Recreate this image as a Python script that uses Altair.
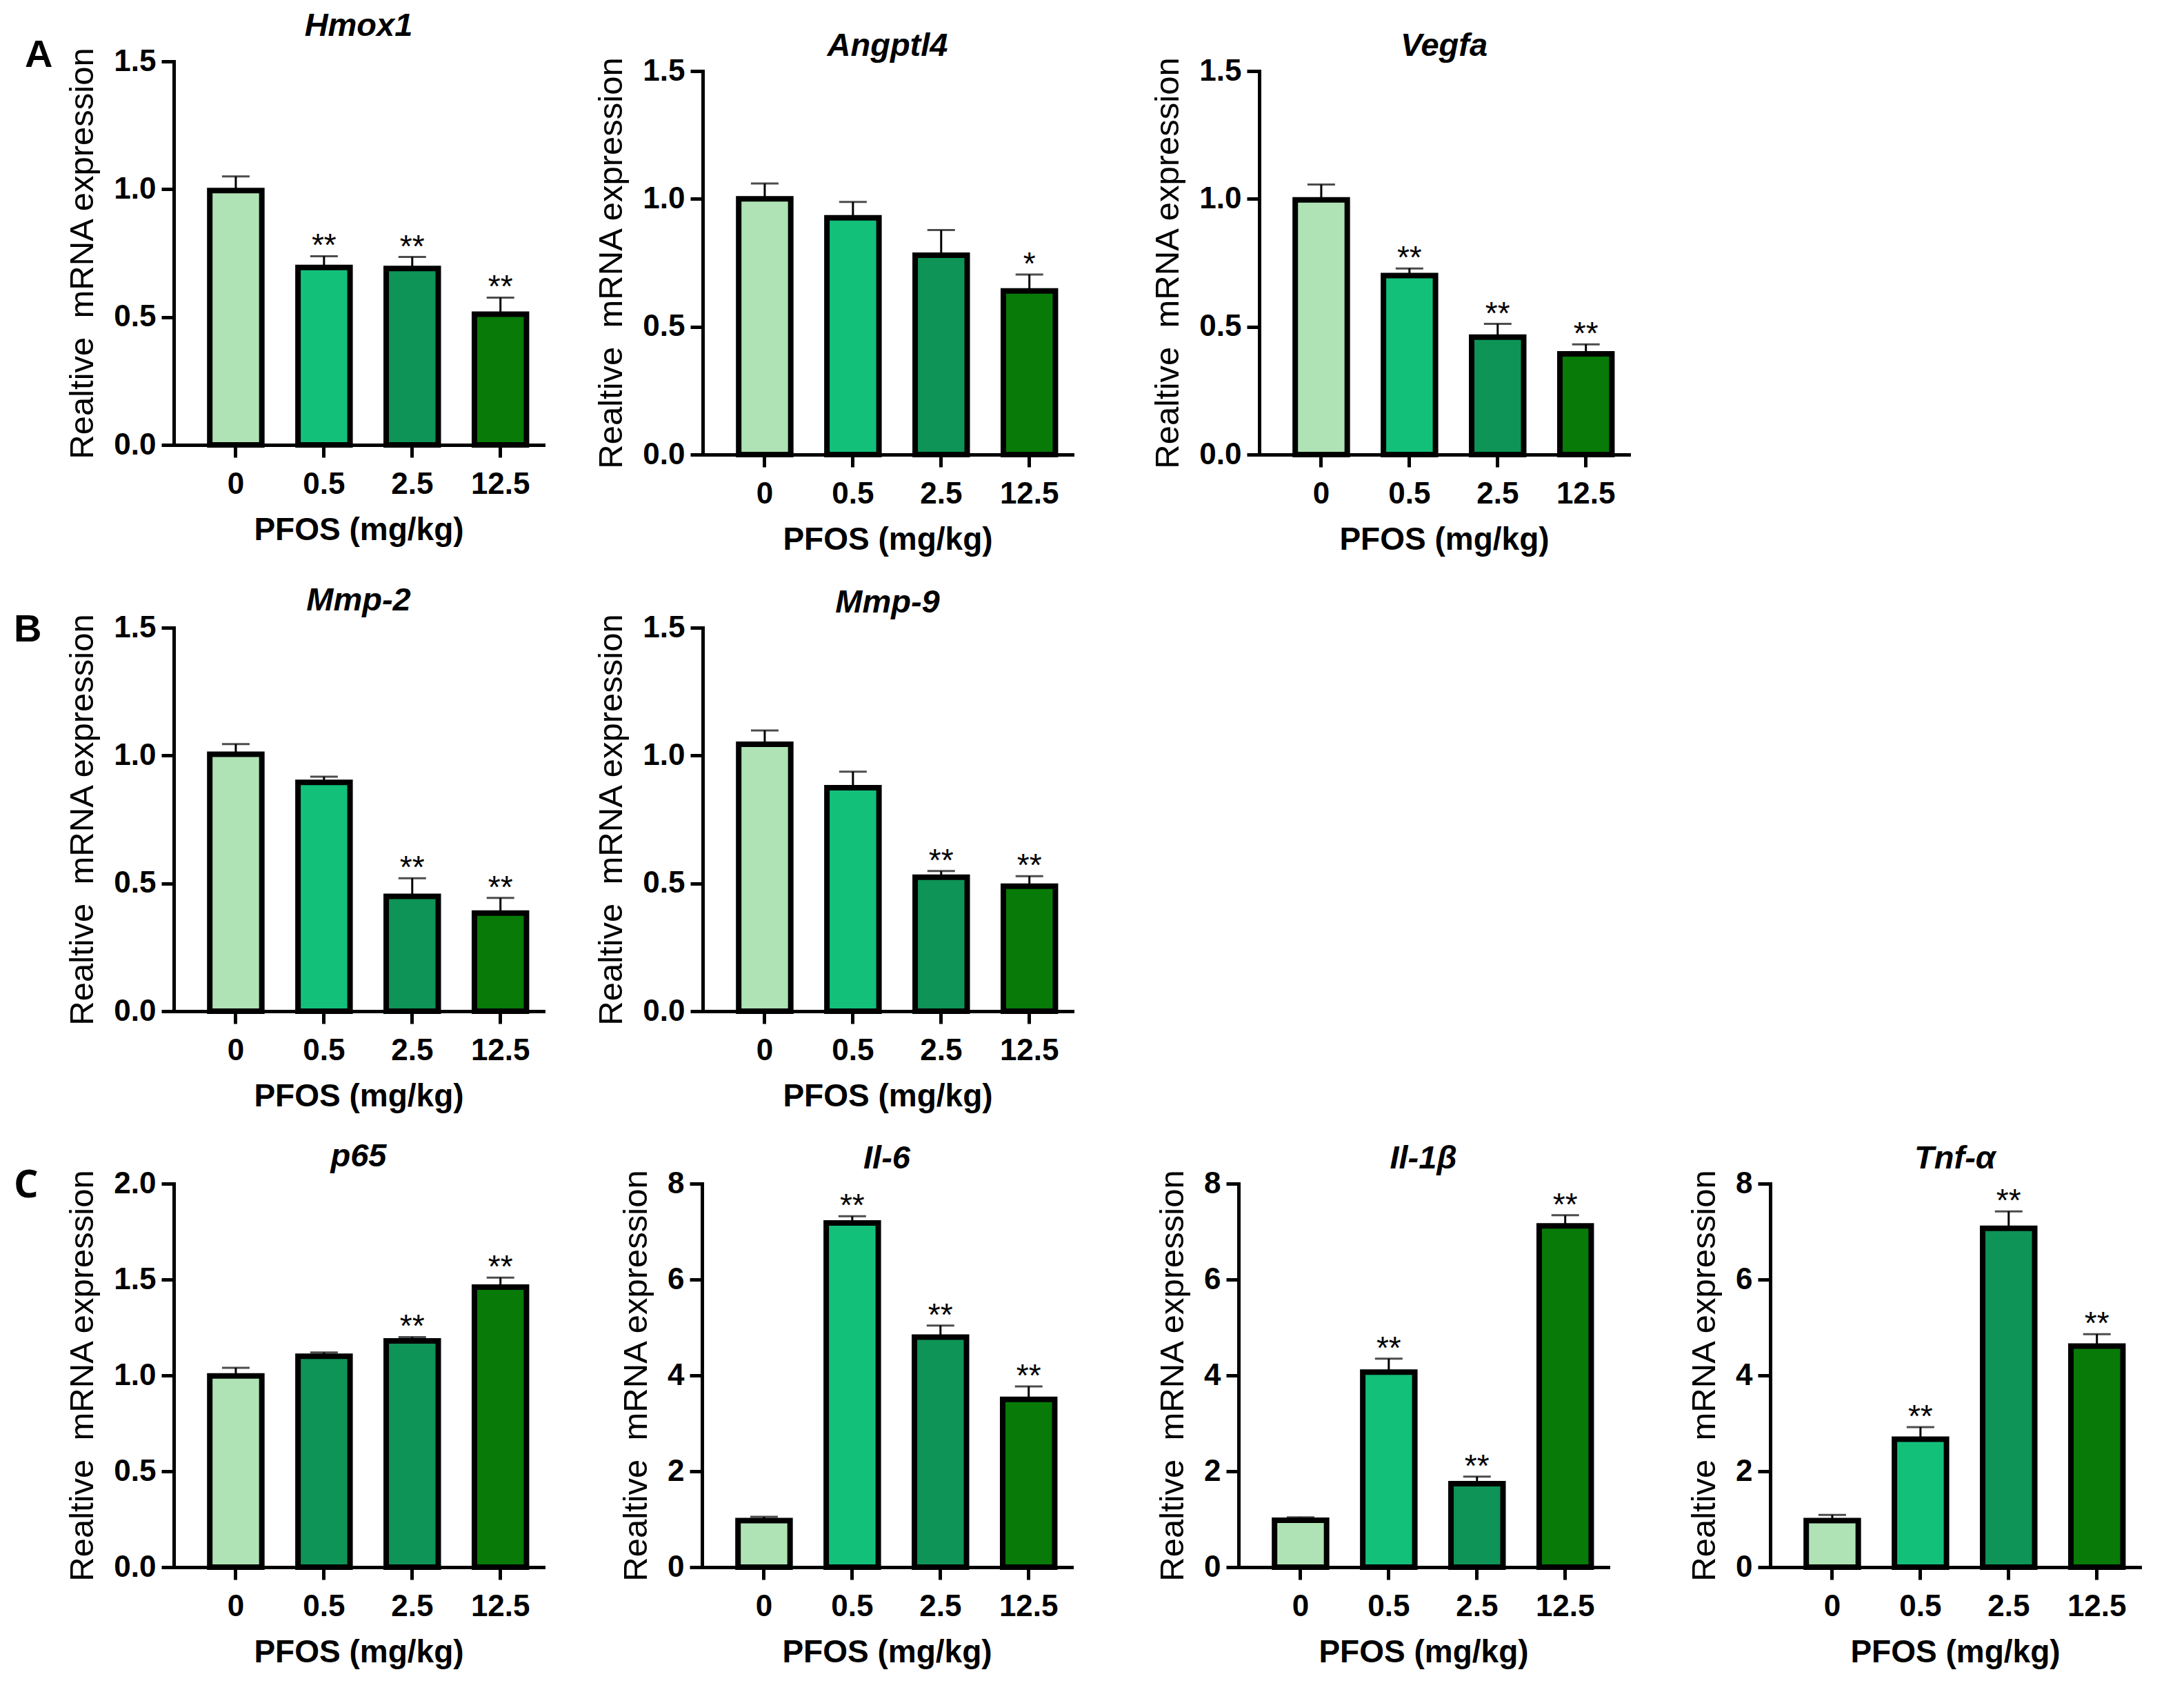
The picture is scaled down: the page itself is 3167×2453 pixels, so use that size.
import altair as alt
import pandas as pd

FONT = "Liberation Sans"
doses = ["0", "0.5", "2.5", "12.5"]
shade_names = ["ctrl", "low", "mid", "high"]
shade_colors = ["#afe3b5", "#12c07a", "#0e9456", "#077a07"]
YTITLE = "Realtive\u00a0 mRNA expression"

# ---- data (mean, error, significance) ----
hmox1_mean = [0.995, 0.694, 0.690, 0.511]
hmox1_err = [0.055, 0.044, 0.045, 0.065]
hmox1_sig = ["", "**", "**", "**"]

angptl4_mean = [1.000, 0.926, 0.780, 0.640]
angptl4_err = [0.060, 0.062, 0.098, 0.064]
angptl4_sig = ["", "", "", "*"]

vegfa_mean = [0.996, 0.700, 0.459, 0.394]
vegfa_err = [0.060, 0.028, 0.052, 0.037]
vegfa_sig = ["", "**", "**", "**"]

mmp2_mean = [1.005, 0.895, 0.449, 0.384]
mmp2_err = [0.040, 0.022, 0.071, 0.059]
mmp2_sig = ["", "", "**", "**"]

mmp9_mean = [1.044, 0.874, 0.524, 0.489]
mmp9_err = [0.054, 0.063, 0.024, 0.039]
mmp9_sig = ["", "", "**", "**"]

p65_mean = [0.997, 1.100, 1.180, 1.460]
p65_err = [0.043, 0.020, 0.020, 0.050]
p65_sig = ["", "", "**", "**"]

il6_mean = [0.97, 7.18, 4.80, 3.50]
il6_err = [0.08, 0.14, 0.24, 0.27]
il6_sig = ["", "**", "**", "**"]

il1b_mean = [0.98, 4.07, 1.74, 7.12]
il1b_err = [0.06, 0.28, 0.15, 0.22]
il1b_sig = ["", "**", "**", "**"]

tnfa_mean = [0.97, 2.67, 7.07, 4.61]
tnfa_err = [0.12, 0.25, 0.35, 0.25]
tnfa_sig = ["", "**", "**", "**"]

default_shades = [0, 1, 2, 3]
p65_shades = [0, 2, 2, 3]

W, H = 536, 556


def make_df(mean, err, sig, shades):
    return pd.DataFrame({
        "dose": doses,
        "value": mean,
        "err": err,
        "sig": sig,
        "shade": [shade_names[i] for i in shades],
    })


def panel(gene, df, ymax, yvals, fmt, extra=(), drop=0):
    # drop: the axis starts this many pixels below the top of the panel
    base = alt.Chart(df).transform_calculate(upper="datum.value + datum.err")
    xenc = alt.X("dose:N", sort=doses, title="PFOS (mg/kg)",
                 scale=alt.Scale(paddingInner=0.41, paddingOuter=0.3, align=0.68))
    yscale = alt.Scale(domain=[0, ymax], nice=False, zero=True, range=[H + drop, drop])
    yaxis = alt.Axis(values=yvals, format=fmt)

    def Y(field):
        return alt.Y(field, scale=yscale, axis=yaxis, title=YTITLE)

    stems = base.mark_rule(color="black", strokeWidth=3).encode(
        x=xenc, y=Y("value:Q"), y2="upper:Q")
    bars = base.mark_bar(stroke="black", strokeWidth=8, strokeJoin="miter").encode(
        x=xenc, y=Y("value:Q"),
        color=alt.Color("shade:N", scale=alt.Scale(domain=shade_names, range=shade_colors), legend=None))
    caps = base.mark_tick(color="black", thickness=3, size=40).encode(x=xenc, y=Y("upper:Q"))
    stars = base.mark_text(font=FONT, fontSize=46, dy=0, baseline="alphabetic", color="black").encode(
        x=xenc, y=Y("upper:Q"), text="sig:N")
    layers = [stems, bars, caps, stars] + list(extra)
    return alt.layer(*layers).properties(
        width=W, height=H + drop,
        title=alt.TitleParams(gene, font=FONT, fontSize=47, fontStyle="italic", fontWeight="bold",
                              offset=-10, anchor="middle", color="black"))


def letter(txt, x, y, font=FONT):
    return alt.Chart(pd.DataFrame({"lab": [txt]})).mark_text(
        font=font, fontSize=56, fontWeight="bold", align="left", baseline="alphabetic", color="black"
    ).encode(text="lab:N", x=alt.value(x), y=alt.value(y))


dec15 = [0, 0.5, 1.0, 1.5]
dec20 = [0, 0.5, 1.0, 1.5, 2.0]
int8 = [0, 2, 4, 6, 8]

p_hmox1 = panel("Hmox1", make_df(hmox1_mean, hmox1_err, hmox1_sig, default_shades), 1.5, dec15, ".1f",
                [letter("A", -216, 8)])
p_angptl4 = panel("Angptl4", make_df(angptl4_mean, angptl4_err, angptl4_sig, default_shades), 1.5, dec15, ".1f",
                  drop=14)
p_vegfa = panel("Vegfa", make_df(vegfa_mean, vegfa_err, vegfa_sig, default_shades), 1.5, dec15, ".1f",
                drop=14)
p_mmp2 = panel("Mmp-2", make_df(mmp2_mean, mmp2_err, mmp2_sig, default_shades), 1.5, dec15, ".1f",
               [letter("B", -232, 20)])
p_mmp9 = panel("Mmp-9", make_df(mmp9_mean, mmp9_err, mmp9_sig, default_shades), 1.5, dec15, ".1f")
p_p65 = panel("p65", make_df(p65_mean, p65_err, p65_sig, p65_shades), 2.0, dec20, ".1f",
              [letter("C", -232, 20, font="Open Sans")])
p_il6 = panel("Il-6", make_df(il6_mean, il6_err, il6_sig, default_shades), 8, int8, "d")
p_il1b = panel("Il-1β", make_df(il1b_mean, il1b_err, il1b_sig, default_shades), 8, int8, "d")
p_tnfa = panel("Tnf-α", make_df(tnfa_mean, tnfa_err, tnfa_sig, default_shades), 8, int8, "d")

rowA = alt.hconcat(alt.hconcat(p_hmox1, p_angptl4, spacing=74), p_vegfa, spacing=114)
rowB = alt.hconcat(p_mmp2, p_mmp9, spacing=74)
rowC = alt.hconcat(alt.hconcat(alt.hconcat(p_p65, p_il6, spacing=110), p_il1b, spacing=122),
                   p_tnfa, spacing=115)

chart = alt.vconcat(alt.vconcat(rowA, rowB, spacing=42), rowC, spacing=41).properties(
    padding={"left": 12, "top": 6, "right": 10, "bottom": 6},
    background="white",
).configure_view(stroke=None).configure_axis(
    domainColor="black", domainWidth=5, domainCap="square",
    tickColor="black", tickWidth=5, tickSize=18,
    labelFont=FONT, labelFontSize=44, labelFontWeight="bold", labelColor="black",
    titleFont=FONT, titleColor="black", grid=False,
).configure_axisY(
    titleFontSize=49, titleFontWeight="normal", titlePadding=20, labelPadding=8,
).configure_axisX(
    titleFontSize=46, titleFontWeight="bold", titlePadding=22, labelPadding=17, labelAngle=0,
)

chart.save("out.html", embed_options={"renderer": "svg", "actions": False})
